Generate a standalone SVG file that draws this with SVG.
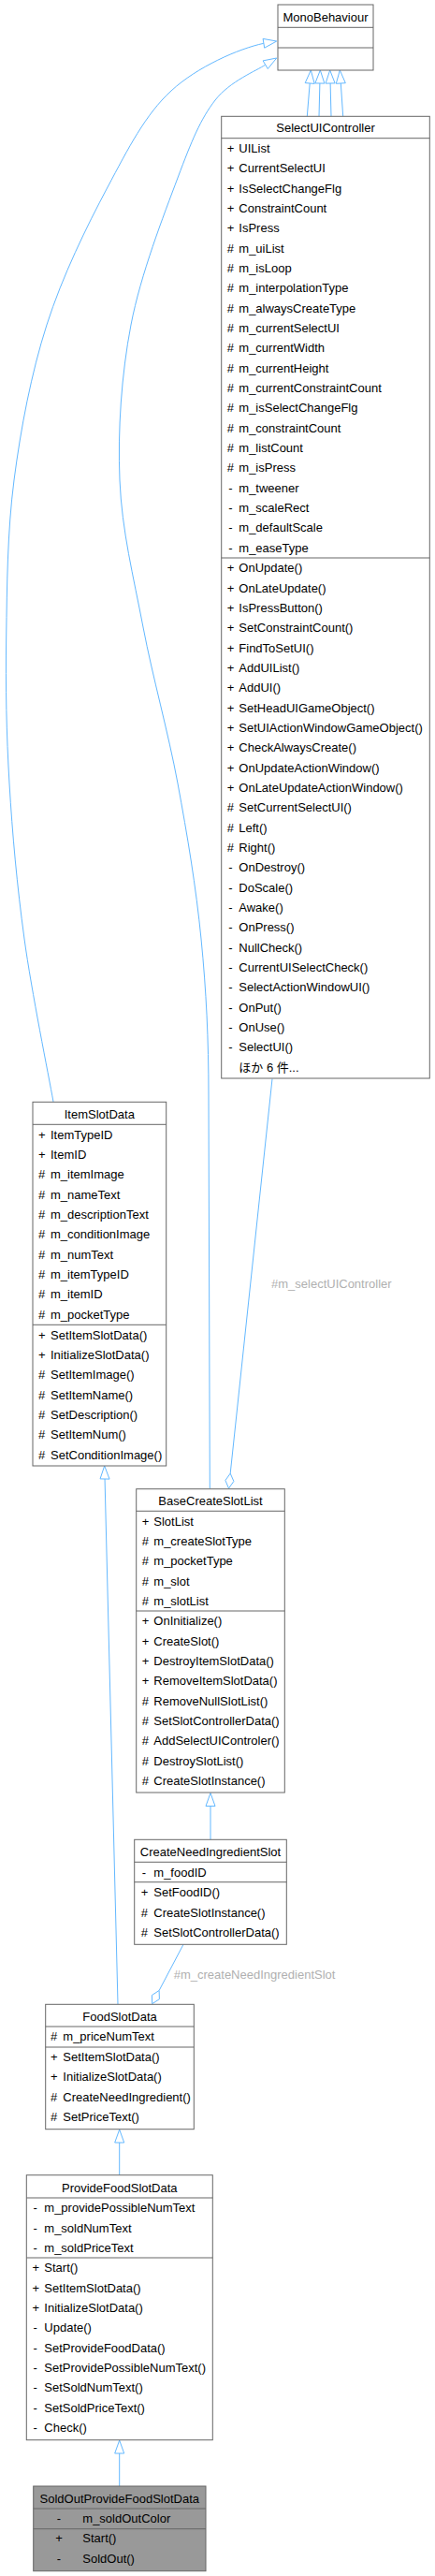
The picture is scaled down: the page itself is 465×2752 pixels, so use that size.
<svg xmlns="http://www.w3.org/2000/svg" width="465" height="2752" viewBox="0 0 465 2752">
<style>
.box{fill:#ffffff;stroke:#666666;stroke-width:1}
.hl{fill:#999999;stroke:#666666;stroke-width:1}
.sep{stroke:#666666;stroke-width:1}
.t{font-family:"Liberation Sans",Arial,"Noto Sans CJK JP",sans-serif;font-size:13px;fill:#000000}
.c{text-anchor:middle}
.edge{fill:none;stroke:#63B8FF;stroke-width:1}
.ah{fill:#ffffff;stroke:#63B8FF;stroke-width:1}
.lbl{font-family:"Liberation Sans",Arial,sans-serif;font-size:13px;fill:#b0b0b0}
</style>
<rect width="465" height="2752" fill="#ffffff"/>

<g id="connectors">
  <!-- ItemSlotData -> MonoBehaviour -->
  <path class="edge" d="M57,1177 C51.8,1148 33.8,1059.7 26,1003 C18.2,946.3 13.2,890.8 10,837 C6.8,783.2 5.9,734 6.7,680 C7.5,626 7.8,568.5 15,513 C22.2,457.5 33.3,399.2 50,347 C66.7,294.8 92.8,241.7 115,200 C137.2,158.3 155.3,122.5 183,97 C210.7,71.5 255,52 281.9,46.3"/>
  <polygon class="ah" points="295.7,44 282.7,51.2 281.1,41.4"/>
  <!-- BaseCreateSlotList -> MonoBehaviour -->
  <path class="edge" d="M224.3,1590 L223,1170 C223,1110 220.5,1058.5 215,1003 C209.5,947.5 200.3,892.5 190,837 C179.7,781.5 163.3,724 153,670 C142.7,616 130.2,566.8 128,513 C125.8,459.2 129.7,400.8 140,347 C150.3,293.2 175,230 190,190 C205,150 214.4,127.2 230,107 C245.6,86.8 274.7,75.3 283.7,69.2"/>
  <polygon class="ah" points="295.7,62 286.3,73.5 281.1,64.9"/>
  <!-- four short inheritance edges into MonoBehaviour -->
  <line class="edge" x1="328.3" y1="124.3" x2="331.2" y2="89"/>
  <polygon class="ah" points="332.3,75 336.2,89.4 326.2,88.6"/>
  <line class="edge" x1="341" y1="124.3" x2="341.9" y2="89"/>
  <polygon class="ah" points="342.3,75 346.9,89.1 336.9,88.9"/>
  <line class="edge" x1="354" y1="124.3" x2="353.1" y2="89"/>
  <polygon class="ah" points="352.7,75 358.1,88.9 348.1,89.1"/>
  <line class="edge" x1="366.7" y1="124.3" x2="364.3" y2="89"/>
  <polygon class="ah" points="363.3,75 369.3,88.7 359.3,89.3"/>
  <!-- SelectUIController aggregated in BaseCreateSlotList -->
  <line class="edge" x1="291" y1="1152.5" x2="246.2" y2="1574.1"/>
  <polygon class="ah" points="244.5,1590 249.9,1582.5 246.2,1574.1 240.9,1581.5"/>
  <text class="lbl" x="290" y="1376.2">#m_selectUIController</text>
  <!-- FoodSlotData -> ItemSlotData -->
  <line class="edge" x1="126" y1="2141.3" x2="112.05" y2="1580"/>
  <polygon class="ah" points="111.7,1566 117.05,1580.1 107.05,1579.9"/>
  <!-- CreateNeedIngredientSlot -> BaseCreateSlotList -->
  <line class="edge" x1="225" y1="1965.3" x2="225" y2="1929.5"/>
  <polygon class="ah" points="225,1915.5 230,1929.5 220,1929.5"/>
  <!-- CreateNeedIngredientSlot aggregated in FoodSlotData -->
  <line class="edge" x1="196" y1="2077.3" x2="170.1" y2="2126.5"/>
  <polygon class="ah" points="162.7,2140.7 170.4,2135.7 170.1,2126.5 162.4,2131.5"/>
  <text class="lbl" x="185.7" y="2113.8">#m_createNeedIngredientSlot</text>
  <!-- ProvideFoodSlotData -> FoodSlotData -->
  <line class="edge" x1="127.7" y1="2323.7" x2="127.7" y2="2289"/>
  <polygon class="ah" points="127.7,2275 132.7,2289 122.7,2289"/>
  <!-- SoldOutProvideFoodSlotData -> ProvideFoodSlotData -->
  <line class="edge" x1="127.7" y1="2656" x2="127.7" y2="2621"/>
  <polygon class="ah" points="127.7,2607 132.7,2621 122.7,2621"/>
</g>

<g id="MonoBehaviour">
  <rect class="box" x="297" y="5" width="102" height="70"/>
  <line class="sep" x1="297" y1="29.3" x2="399" y2="29.3"/>
  <line class="sep" x1="297" y1="51" x2="399" y2="51"/>
  <text class="t c" x="348" y="22.5">MonoBehaviour</text>
</g>

<g id="SelectUIController">
  <rect class="box" x="236.7" y="124.3" width="222.6" height="1027.7"/>
  <line class="sep" x1="236.7" y1="147.7" x2="459.3" y2="147.7"/>
  <line class="sep" x1="236.7" y1="596" x2="459.3" y2="596"/>
  <text class="t c" x="348" y="141.2">SelectUIController</text>
  <g class="t">
    <text x="242.7" y="162.9">+</text><text x="255.3" y="162.9">UIList</text>
    <text x="242.7" y="184.2">+</text><text x="255.3" y="184.2">CurrentSelectUI</text>
    <text x="242.7" y="205.6">+</text><text x="255.3" y="205.6">IsSelectChangeFlg</text>
    <text x="242.7" y="226.9">+</text><text x="255.3" y="226.9">ConstraintCount</text>
    <text x="242.7" y="248.2">+</text><text x="255.3" y="248.2">IsPress</text>
    <text x="242.7" y="269.6">#</text><text x="255.3" y="269.6">m_uiList</text>
    <text x="242.7" y="290.9">#</text><text x="255.3" y="290.9">m_isLoop</text>
    <text x="242.7" y="312.2">#</text><text x="255.3" y="312.2">m_interpolationType</text>
    <text x="242.7" y="333.5">#</text><text x="255.3" y="333.5">m_alwaysCreateType</text>
    <text x="242.7" y="354.9">#</text><text x="255.3" y="354.9">m_currentSelectUI</text>
    <text x="242.7" y="376.2">#</text><text x="255.3" y="376.2">m_currentWidth</text>
    <text x="242.7" y="397.5">#</text><text x="255.3" y="397.5">m_currentHeight</text>
    <text x="242.7" y="418.9">#</text><text x="255.3" y="418.9">m_currentConstraintCount</text>
    <text x="242.7" y="440.2">#</text><text x="255.3" y="440.2">m_isSelectChangeFlg</text>
    <text x="242.7" y="461.5">#</text><text x="255.3" y="461.5">m_constraintCount</text>
    <text x="242.7" y="482.9">#</text><text x="255.3" y="482.9">m_listCount</text>
    <text x="242.7" y="504.2">#</text><text x="255.3" y="504.2">m_isPress</text>
    <text x="244.3" y="525.5">-</text><text x="255.3" y="525.5">m_tweener</text>
    <text x="244.3" y="546.8">-</text><text x="255.3" y="546.8">m_scaleRect</text>
    <text x="244.3" y="568.2">-</text><text x="255.3" y="568.2">m_defaultScale</text>
    <text x="244.3" y="589.5">-</text><text x="255.3" y="589.5">m_easeType</text>
    <text x="242.7" y="611.2">+</text><text x="255.3" y="611.2">OnUpdate()</text>
    <text x="242.7" y="632.5">+</text><text x="255.3" y="632.5">OnLateUpdate()</text>
    <text x="242.7" y="653.9">+</text><text x="255.3" y="653.9">IsPressButton()</text>
    <text x="242.7" y="675.2">+</text><text x="255.3" y="675.2">SetConstraintCount()</text>
    <text x="242.7" y="696.5">+</text><text x="255.3" y="696.5">FindToSetUI()</text>
    <text x="242.7" y="717.9">+</text><text x="255.3" y="717.9">AddUIList()</text>
    <text x="242.7" y="739.2">+</text><text x="255.3" y="739.2">AddUI()</text>
    <text x="242.7" y="760.5">+</text><text x="255.3" y="760.5">SetHeadUIGameObject()</text>
    <text x="242.7" y="781.8">+</text><text x="255.3" y="781.8">SetUIActionWindowGameObject()</text>
    <text x="242.7" y="803.2">+</text><text x="255.3" y="803.2">CheckAlwaysCreate()</text>
    <text x="242.7" y="824.5">+</text><text x="255.3" y="824.5">OnUpdateActionWindow()</text>
    <text x="242.7" y="845.8">+</text><text x="255.3" y="845.8">OnLateUpdateActionWindow()</text>
    <text x="242.7" y="867.2">#</text><text x="255.3" y="867.2">SetCurrentSelectUI()</text>
    <text x="242.7" y="888.5">#</text><text x="255.3" y="888.5">Left()</text>
    <text x="242.7" y="909.8">#</text><text x="255.3" y="909.8">Right()</text>
    <text x="244.3" y="931.2">-</text><text x="255.3" y="931.2">OnDestroy()</text>
    <text x="244.3" y="952.5">-</text><text x="255.3" y="952.5">DoScale()</text>
    <text x="244.3" y="973.8">-</text><text x="255.3" y="973.8">Awake()</text>
    <text x="244.3" y="995.1">-</text><text x="255.3" y="995.1">OnPress()</text>
    <text x="244.3" y="1016.5">-</text><text x="255.3" y="1016.5">NullCheck()</text>
    <text x="244.3" y="1037.8">-</text><text x="255.3" y="1037.8">CurrentUISelectCheck()</text>
    <text x="244.3" y="1059.1">-</text><text x="255.3" y="1059.1">SelectActionWindowUI()</text>
    <text x="244.3" y="1080.5">-</text><text x="255.3" y="1080.5">OnPut()</text>
    <text x="244.3" y="1101.8">-</text><text x="255.3" y="1101.8">OnUse()</text>
    <text x="244.3" y="1123.1">-</text><text x="255.3" y="1123.1">SelectUI()</text>
    <text x="255.3" y="1144.5">ほか 6 件...</text>
  </g>
</g>

<g id="ItemSlotData">
  <rect class="box" x="35" y="1177.3" width="142.7" height="388.7"/>
  <line class="sep" x1="35" y1="1201.3" x2="177.7" y2="1201.3"/>
  <line class="sep" x1="35" y1="1415.3" x2="177.7" y2="1415.3"/>
  <text class="t c" x="106.3" y="1195.2">ItemSlotData</text>
  <g class="t">
    <text x="41" y="1216.5">+</text><text x="54" y="1216.5">ItemTypeID</text>
    <text x="41" y="1237.8">+</text><text x="54" y="1237.8">ItemID</text>
    <text x="41" y="1259.2">#</text><text x="54" y="1259.2">m_itemImage</text>
    <text x="41" y="1280.5">#</text><text x="54" y="1280.5">m_nameText</text>
    <text x="41" y="1301.8">#</text><text x="54" y="1301.8">m_descriptionText</text>
    <text x="41" y="1323.2">#</text><text x="54" y="1323.2">m_conditionImage</text>
    <text x="41" y="1344.5">#</text><text x="54" y="1344.5">m_numText</text>
    <text x="41" y="1365.8">#</text><text x="54" y="1365.8">m_itemTypeID</text>
    <text x="41" y="1387.1">#</text><text x="54" y="1387.1">m_itemID</text>
    <text x="41" y="1408.5">#</text><text x="54" y="1408.5">m_pocketType</text>
    <text x="41" y="1430.5">+</text><text x="54" y="1430.5">SetItemSlotData()</text>
    <text x="41" y="1451.8">+</text><text x="54" y="1451.8">InitializeSlotData()</text>
    <text x="41" y="1473.2">#</text><text x="54" y="1473.2">SetItemImage()</text>
    <text x="41" y="1494.5">#</text><text x="54" y="1494.5">SetItemName()</text>
    <text x="41" y="1515.8">#</text><text x="54" y="1515.8">SetDescription()</text>
    <text x="41" y="1537.2">#</text><text x="54" y="1537.2">SetItemNum()</text>
    <text x="41" y="1558.5">#</text><text x="54" y="1558.5">SetConditionImage()</text>
  </g>
</g>

<g id="BaseCreateSlotList">
  <rect class="box" x="145.7" y="1590.7" width="158.6" height="324.3"/>
  <line class="sep" x1="145.7" y1="1614.3" x2="304.3" y2="1614.3"/>
  <line class="sep" x1="145.7" y1="1721" x2="304.3" y2="1721"/>
  <text class="t c" x="225" y="1607.8">BaseCreateSlotList</text>
  <g class="t">
    <text x="151.7" y="1629.5">+</text><text x="164.3" y="1629.5">SlotList</text>
    <text x="151.7" y="1650.8">#</text><text x="164.3" y="1650.8">m_createSlotType</text>
    <text x="151.7" y="1672.2">#</text><text x="164.3" y="1672.2">m_pocketType</text>
    <text x="151.7" y="1693.5">#</text><text x="164.3" y="1693.5">m_slot</text>
    <text x="151.7" y="1714.8">#</text><text x="164.3" y="1714.8">m_slotList</text>
    <text x="151.7" y="1736.2">+</text><text x="164.3" y="1736.2">OnInitialize()</text>
    <text x="151.7" y="1757.5">+</text><text x="164.3" y="1757.5">CreateSlot()</text>
    <text x="151.7" y="1778.9">+</text><text x="164.3" y="1778.9">DestroyItemSlotData()</text>
    <text x="151.7" y="1800.2">+</text><text x="164.3" y="1800.2">RemoveItemSlotData()</text>
    <text x="151.7" y="1821.5">#</text><text x="164.3" y="1821.5">RemoveNullSlotList()</text>
    <text x="151.7" y="1842.9">#</text><text x="164.3" y="1842.9">SetSlotControllerData()</text>
    <text x="151.7" y="1864.2">#</text><text x="164.3" y="1864.2">AddSelectUIControler()</text>
    <text x="151.7" y="1885.5">#</text><text x="164.3" y="1885.5">DestroySlotList()</text>
    <text x="151.7" y="1906.8">#</text><text x="164.3" y="1906.8">CreateSlotInstance()</text>
  </g>
</g>

<g id="CreateNeedIngredientSlot">
  <rect class="box" x="143.7" y="1965.3" width="162.6" height="112"/>
  <line class="sep" x1="143.7" y1="1989.3" x2="306.3" y2="1989.3"/>
  <line class="sep" x1="143.7" y1="2010.7" x2="306.3" y2="2010.7"/>
  <text class="t c" x="225" y="1982.8">CreateNeedIngredientSlot</text>
  <g class="t">
    <text x="151.7" y="2004.5">-</text><text x="164.3" y="2004.5">m_foodID</text>
    <text x="150.7" y="2026.2">+</text><text x="164.3" y="2026.2">SetFoodID()</text>
    <text x="150.7" y="2047.5">#</text><text x="164.3" y="2047.5">CreateSlotInstance()</text>
    <text x="150.7" y="2068.9">#</text><text x="164.3" y="2068.9">SetSlotControllerData()</text>
  </g>
</g>

<g id="FoodSlotData">
  <rect class="box" x="48.7" y="2141.3" width="158.6" height="133.4"/>
  <line class="sep" x1="48.7" y1="2165" x2="207.3" y2="2165"/>
  <line class="sep" x1="48.7" y1="2187" x2="207.3" y2="2187"/>
  <text class="t c" x="128" y="2158.5">FoodSlotData</text>
  <g class="t">
    <text x="54" y="2179.8">#</text><text x="67.3" y="2179.8">m_priceNumText</text>
    <text x="54" y="2201.8">+</text><text x="67.3" y="2201.8">SetItemSlotData()</text>
    <text x="54" y="2223.1">+</text><text x="67.3" y="2223.1">InitializeSlotData()</text>
    <text x="54" y="2244.5">#</text><text x="67.3" y="2244.5">CreateNeedIngredient()</text>
    <text x="54" y="2265.8">#</text><text x="67.3" y="2265.8">SetPriceText()</text>
  </g>
</g>

<g id="ProvideFoodSlotData">
  <rect class="box" x="28.3" y="2323.7" width="199" height="283"/>
  <line class="sep" x1="28.3" y1="2348" x2="227.3" y2="2348"/>
  <line class="sep" x1="28.3" y1="2412" x2="227.3" y2="2412"/>
  <text class="t c" x="127.8" y="2341.8">ProvideFoodSlotData</text>
  <g class="t">
    <text x="35.5" y="2363.2">-</text><text x="47.3" y="2363.2">m_providePossibleNumText</text>
    <text x="35.5" y="2384.5">-</text><text x="47.3" y="2384.5">m_soldNumText</text>
    <text x="35.5" y="2405.9">-</text><text x="47.3" y="2405.9">m_soldPriceText</text>
    <text x="34.5" y="2427.2">+</text><text x="47.3" y="2427.2">Start()</text>
    <text x="34.5" y="2448.5">+</text><text x="47.3" y="2448.5">SetItemSlotData()</text>
    <text x="34.5" y="2469.9">+</text><text x="47.3" y="2469.9">InitializeSlotData()</text>
    <text x="35.5" y="2491.2">-</text><text x="47.3" y="2491.2">Update()</text>
    <text x="35.5" y="2512.5">-</text><text x="47.3" y="2512.5">SetProvideFoodData()</text>
    <text x="35.5" y="2533.9">-</text><text x="47.3" y="2533.9">SetProvidePossibleNumText()</text>
    <text x="35.5" y="2555.2">-</text><text x="47.3" y="2555.2">SetSoldNumText()</text>
    <text x="35.5" y="2576.5">-</text><text x="47.3" y="2576.5">SetSoldPriceText()</text>
    <text x="35.5" y="2597.9">-</text><text x="47.3" y="2597.9">Check()</text>
  </g>
</g>

<g id="SoldOutProvideFoodSlotData">
  <rect class="hl" x="35.7" y="2656" width="184.3" height="90.7"/>
  <line class="sep" x1="35.7" y1="2680" x2="220" y2="2680"/>
  <line class="sep" x1="35.7" y1="2701.7" x2="220" y2="2701.7"/>
  <text class="t c" x="127.8" y="2673.5">SoldOutProvideFoodSlotData</text>
  <g class="t">
    <text class="c" x="63" y="2695.2">-</text><text x="88.3" y="2695.2">m_soldOutColor</text>
    <text class="c" x="63" y="2716.2">+</text><text x="88.3" y="2716.2">Start()</text>
    <text class="c" x="63" y="2737.8">-</text><text x="88.3" y="2737.8">SoldOut()</text>
  </g>
</g>
</svg>
